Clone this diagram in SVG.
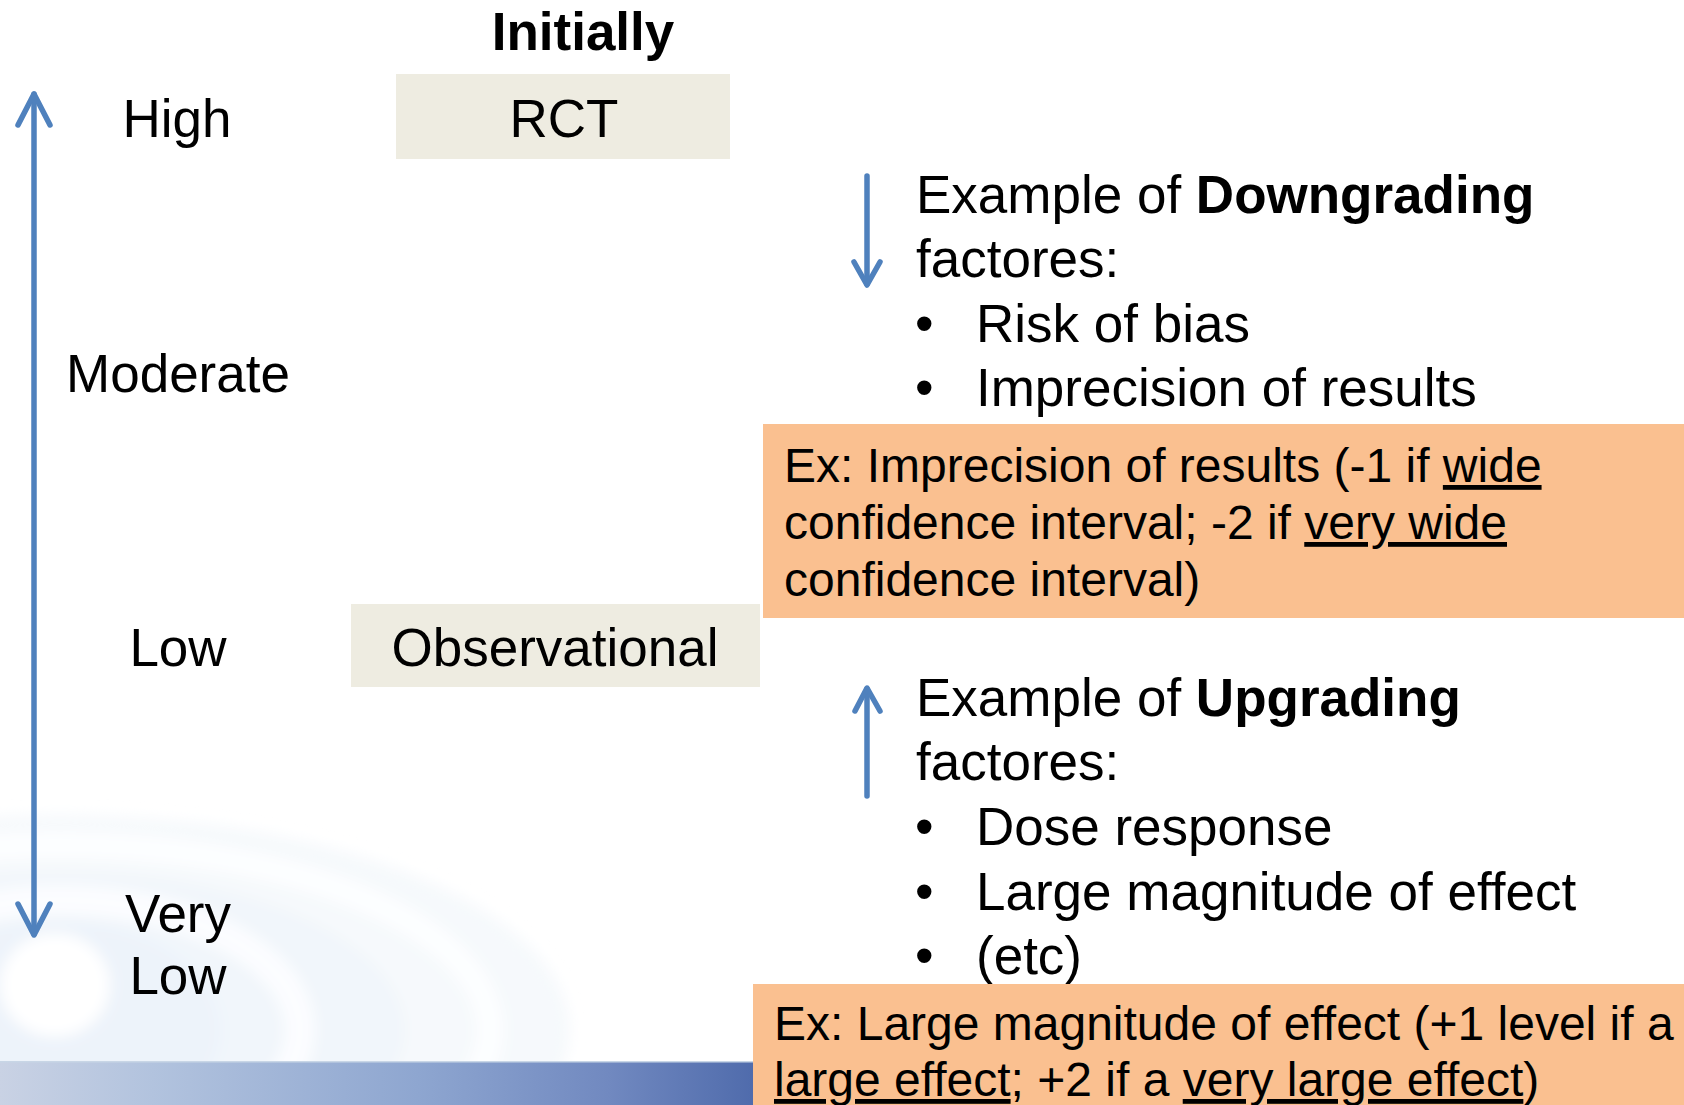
<svg xmlns="http://www.w3.org/2000/svg" width="1684" height="1105" viewBox="0 0 1684 1105">
  <style>
    text { font-family: "Liberation Sans", Arial, sans-serif; fill: #000; }
    .lbl { font-size: 53px; text-anchor: middle; }
    .head { font-size: 53px; font-weight: bold; text-anchor: middle; }
    .body { font-size: 53px; }
    .note { font-size: 48px; }
    .u { text-decoration: underline; }
    .b { font-weight: bold; }
    .arrow { stroke: #4F81BD; stroke-width: 5.5; fill: none; stroke-linecap: round; stroke-linejoin: round; }
    .box { fill: #EEECE1; }
    .ex { fill: #FAC090; }
  </style>
  <defs>
    <linearGradient id="bar" x1="0" y1="0" x2="760" y2="0" gradientUnits="userSpaceOnUse">
      <stop offset="0" stop-color="#c9d2e4"/>
      <stop offset="0.2" stop-color="#b2c3de"/>
      <stop offset="0.55" stop-color="#8ea6d0"/>
      <stop offset="0.8" stop-color="#7189c0"/>
      <stop offset="1" stop-color="#4e6aab"/>
    </linearGradient>
    <filter id="soft" x="-20%" y="-20%" width="140%" height="140%">
      <feGaussianBlur stdDeviation="7"/>
    </filter>
  </defs>

  <!-- page background -->
  <rect width="1684" height="1105" fill="#ffffff"/>

  <!-- soft ripple decoration, lower left -->
  <g filter="url(#soft)">
    <ellipse cx="60" cy="1030" rx="510" ry="215" fill="#f6f9fc"/>
    <ellipse cx="60" cy="1030" rx="430" ry="185" fill="none" stroke="#fdfeff" stroke-width="26"/>
    <ellipse cx="60" cy="1030" rx="345" ry="158" fill="#f1f6fb"/>
    <ellipse cx="60" cy="1030" rx="240" ry="130" fill="none" stroke="#fcfdff" stroke-width="30"/>
    <ellipse cx="60" cy="1030" rx="160" ry="108" fill="#edf3fa"/>
    <ellipse cx="55" cy="985" rx="55" ry="52" fill="#ffffff"/>
  </g>

  <!-- bottom band -->
  <rect x="0" y="1061" width="1684" height="44" fill="url(#bar)"/>
  <rect x="0" y="1061" width="1684" height="1.5" fill="#c8d6e6"/>

  <!-- connectors -->
  <g id="connectors">
    <!-- quality scale axis -->
    <line class="arrow" x1="34" y1="94" x2="34" y2="934"/>
    <polyline class="arrow" points="18,125 34,94 50,125"/>
    <polyline class="arrow" points="18,904 34,935 50,904"/>
    <!-- downgrading -->
    <line class="arrow" x1="867" y1="176" x2="867" y2="284"/>
    <polyline class="arrow" points="854,262 867,285 880,262"/>
    <!-- upgrading -->
    <line class="arrow" x1="867" y1="689" x2="867" y2="796"/>
    <polyline class="arrow" points="855,711 867,688 880,711"/>
  </g>

  <!-- quality levels -->
  <g id="level-high"><text class="lbl" x="177" y="137">High</text></g>
  <g id="level-moderate"><text class="lbl" x="178" y="392">Moderate</text></g>
  <g id="level-low"><text class="lbl" x="178" y="666">Low</text></g>
  <g id="level-verylow">
    <text class="lbl" x="178" y="932">Very</text>
    <text class="lbl" x="178" y="994">Low</text>
  </g>

  <!-- initial ratings -->
  <g id="initially"><text class="head" x="583" y="50">Initially</text></g>
  <g id="rct">
    <rect class="box" x="396" y="74" width="334" height="85"/>
    <text class="lbl" x="564" y="137">RCT</text>
  </g>
  <g id="observational">
    <rect class="box" x="351" y="604" width="409" height="83"/>
    <text class="lbl" x="555" y="666">Observational</text>
  </g>

  <!-- downgrading factors -->
  <g id="downgrading">
    <text class="body" x="916" y="213">Example of <tspan class="b">Downgrading</tspan></text>
    <text class="body" x="916" y="277">factores:</text>
    <text class="body" x="915" y="342">•</text>
    <text class="body" x="976" y="342">Risk of bias</text>
    <text class="body" x="915" y="406">•</text>
    <text class="body" x="976" y="406">Imprecision of results</text>
  </g>
  <g id="downgrading-example">
    <rect class="ex" x="763" y="424" width="921" height="194"/>
    <text class="note" x="784" y="482">Ex: Imprecision of results (-1 if <tspan class="u">wide</tspan></text>
    <text class="note" x="784" y="539">confidence interval; -2 if <tspan class="u">very wide</tspan></text>
    <text class="note" x="784" y="596">confidence interval)</text>
  </g>

  <!-- upgrading factors -->
  <g id="upgrading">
    <text class="body" x="916" y="716">Example of <tspan class="b">Upgrading</tspan></text>
    <text class="body" x="916" y="780">factores:</text>
    <text class="body" x="915" y="845">•</text>
    <text class="body" x="976" y="845">Dose response</text>
    <text class="body" x="915" y="910">•</text>
    <text class="body" x="976" y="910">Large magnitude of effect</text>
    <text class="body" x="915" y="974">•</text>
    <text class="body" x="976" y="974">(etc)</text>
  </g>
  <g id="upgrading-example">
    <rect class="ex" x="753" y="984" width="931" height="121"/>
    <text class="note" x="774" y="1040">Ex: Large magnitude of effect (+1 level if a</text>
    <text class="note" x="774" y="1096"><tspan class="u">large effect</tspan>; +2 if a <tspan class="u">very large effect</tspan>)</text>
  </g>
</svg>
